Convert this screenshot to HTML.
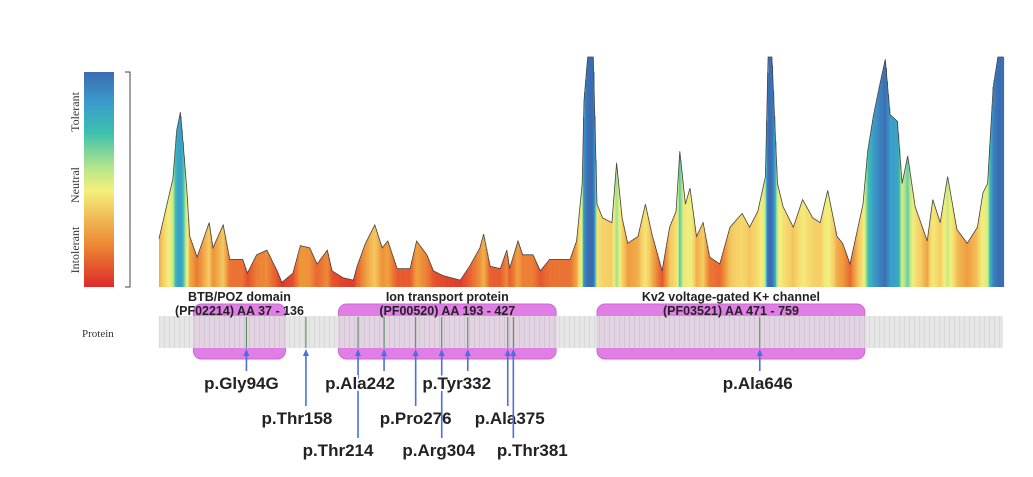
<!DOCTYPE html>
<html><head><meta charset="utf-8">
<style>
html,body{margin:0;padding:0;background:#fff;}
svg{display:block;font-family:"Liberation Sans",Arial,sans-serif;}
</style></head>
<body>
<svg id="chart" width="1033" height="477" viewBox="0 0 1033 477" xmlns="http://www.w3.org/2000/svg">
<defs>
<linearGradient id="cbar" x1="0" y1="1" x2="0" y2="0">
<stop offset="0" stop-color="#dc2a2a"/>
<stop offset="0.2" stop-color="#ec8a34"/>
<stop offset="0.45" stop-color="#f4f07c"/>
<stop offset="0.55" stop-color="#b8e68a"/>
<stop offset="0.72" stop-color="#3cc0ae"/>
<stop offset="0.86" stop-color="#3a9bcb"/>
<stop offset="1" stop-color="#3a6cb2"/>
</linearGradient>
<pattern id="stripes" width="5" height="10" patternUnits="userSpaceOnUse">
<rect width="5" height="10" fill="#e2e2e2"/><rect x="4" width="1" height="10" fill="#d2d2d2"/>
</pattern>
</defs>
<rect x="84" y="72" width="30" height="215" fill="url(#cbar)"/>
<text transform="translate(79,112) rotate(-90)" text-anchor="middle" font-family="Liberation Serif,serif" font-size="12" fill="#333">Tolerant</text>
<text transform="translate(79,185) rotate(-90)" text-anchor="middle" font-family="Liberation Serif,serif" font-size="12" fill="#333">Neutral</text>
<text transform="translate(79,250) rotate(-90)" text-anchor="middle" font-family="Liberation Serif,serif" font-size="12" fill="#333">Intolerant</text>
<path d="M125 72 H130 V287 H125" fill="none" stroke="#444" stroke-width="1"/>
<g id="bars"></g>
<path id="outline" fill="none" stroke="#444" stroke-width="0.8"/>
<g id="domains"></g>
<rect x="159" y="316" width="844" height="32" fill="url(#stripes)" opacity="0.85"/>
<text x="82" y="337" font-family="Liberation Serif,serif" font-size="11" fill="#333">Protein</text>
<g id="domainText"></g>
<g id="muts"></g>
</svg>
<script>
const profileAA=[0,12,15,19,23,26,30,33,41,54,58,69,76,90,95,105,116,127,132,144,152,162,170,181,186,198,209,213,222,232,240,246,256,270,277,288,295,305,324,334,345,349,356,367,374,377,386,391,402,410,420,442,449,455,457,461,467,471,477,487,492,498,504,515,523,530,541,549,556,560,566,571,578,585,592,603,614,627,635,644,652,655,659,665,671,682,692,703,711,719,729,735,743,757,762,768,775,781,786,794,799,805,813,826,832,840,848,858,869,880,886,891,897,902,908];
const profileVal=[0.21,0.42,0.47,0.68,0.76,0.62,0.42,0.22,0.13,0.28,0.17,0.27,0.12,0.12,0.06,0.14,0.16,0.07,0.02,0.06,0.18,0.17,0.1,0.16,0.07,0.04,0.03,0.09,0.19,0.27,0.17,0.2,0.08,0.08,0.2,0.14,0.07,0.05,0.03,0.09,0.17,0.23,0.09,0.08,0.16,0.08,0.2,0.14,0.14,0.07,0.12,0.12,0.2,0.45,0.81,1.0,1.0,0.36,0.3,0.28,0.54,0.3,0.19,0.22,0.36,0.23,0.07,0.26,0.33,0.59,0.36,0.43,0.22,0.28,0.13,0.1,0.26,0.32,0.26,0.33,0.48,1.0,1.0,0.45,0.35,0.26,0.38,0.3,0.28,0.42,0.22,0.19,0.1,0.36,0.59,0.74,0.88,0.99,0.75,0.72,0.45,0.57,0.35,0.2,0.38,0.28,0.48,0.25,0.19,0.26,0.41,0.45,0.87,1.0,1.0];
const domainNames=["BTB/POZ domain","Ion transport protein","Kv2 voltage-gated K+ channel"];
const domainIds=["(PF02214) AA 37 - 136","(PF00520) AA 193 - 427","(PF03521) AA 471 - 759"];
const domainStart=[37,193,471];
const domainEnd=[136,427,759];
const mutLabels=["p.Gly94G","p.Thr158","p.Thr214","p.Ala242","p.Pro276","p.Arg304","p.Tyr332","p.Ala375","p.Thr381","p.Ala646"];
const mutPos=[94,158,214,242,276,304,332,375,381,646];
const mutRow=[0,1,2,0,1,2,0,1,2,0];
const mutLabelShift=[-5,-9,-20,-24,0,-3,-11,2,19,-2];

const NS="http://www.w3.org/2000/svg";
const X=aa=>159+aa*0.93;
const Y=v=>287-v*230;
function mk(t,a,p){const e=document.createElementNS(NS,t);for(const k in a)e.setAttribute(k,a[k]);p.appendChild(e);return e;}
const stops=[[0,[218,40,40]],[0.08,[232,90,46]],[0.18,[238,150,58]],[0.28,[245,205,100]],[0.4,[244,240,124]],[0.5,[184,230,138]],[0.6,[60,192,174]],[0.75,[58,155,203]],[1,[58,108,178]]];
function col(v){for(let i=1;i<stops.length;i++){if(v<=stops[i][0]){const a=stops[i-1],b=stops[i],t=(v-a[0])/(b[0]-a[0]);return 'rgb('+a[1].map((c,j)=>Math.round(c+(b[1][j]-c)*t)).join(',')+')';}}return 'rgb(58,108,178)';}
function interp(aa){for(let i=1;i<profileAA.length;i++){if(aa<=profileAA[i]){const t=(aa-profileAA[i-1])/(profileAA[i]-profileAA[i-1]);return profileVal[i-1]+(profileVal[i]-profileVal[i-1])*t;}}return profileVal[profileVal.length-1];}
const bars=document.getElementById('bars');
const maxAA=profileAA[profileAA.length-1];
for(let aa=0;aa<maxAA;aa+=1.2){
  const v=interp(aa+0.6);
  const r=mk('rect',{x:X(aa).toFixed(2),y:Y(v).toFixed(2),width:1.4,height:(v*230).toFixed(2),fill:col(v)},bars);
  
  
}
document.getElementById('outline').setAttribute('d',profileAA.map((a,i)=>(i?'L':'M')+X(a).toFixed(1)+' '+Y(profileVal[i]).toFixed(1)).join(' '));
const dg=document.getElementById('domains'),dt=document.getElementById('domainText');
domainNames.forEach((n,i)=>{
  const x0=X(domainStart[i]),x1=X(domainEnd[i]);
  const b=mk('rect',{x:x0,y:304,width:x1-x0,height:55,rx:8,fill:'#e07ee6',stroke:'#c86ad0','stroke-width':1},dg);
  
  
  const c=(x0+x1)/2;
  const t1=mk('text',{x:c,y:301,'text-anchor':'middle','font-size':12.5,'font-weight':'bold',fill:'#222'},dt);t1.textContent=n;
  
  
  const t2=mk('text',{x:c,y:315,'text-anchor':'middle','font-size':12.5,'font-weight':'bold',fill:'#222'},dt);t2.textContent=domainIds[i];
  
  
});
const mg=document.getElementById('muts');
const rowY=[389,424,456];
mutLabels.forEach((m,i)=>{
  const x=X(mutPos[i]);
  const gl=mk('line',{x1:x,x2:x,y1:317,y2:348,stroke:'#4a8a4a','stroke-width':1},mg);
  
  
  const yb=rowY[mutRow[i]]-18;
  const ar=mk('line',{x1:x,x2:x,y1:yb,y2:353,stroke:'#4a6fe0','stroke-width':1.6},mg);
  
  
  const hd=mk('path',{d:`M${x-3} 356 L${x} 349 L${x+3} 356 Z`,fill:'#4a6fe0'},mg);
  
  
  const lt=mk('text',{x:x+mutLabelShift[i],y:rowY[mutRow[i]],'text-anchor':'middle','font-size':17,'font-weight':'bold',fill:'#222',stroke:'#fff','stroke-width':4,'paint-order':'stroke'},mg);
  lt.textContent=m;
  
  
});
</script>
</body></html>
